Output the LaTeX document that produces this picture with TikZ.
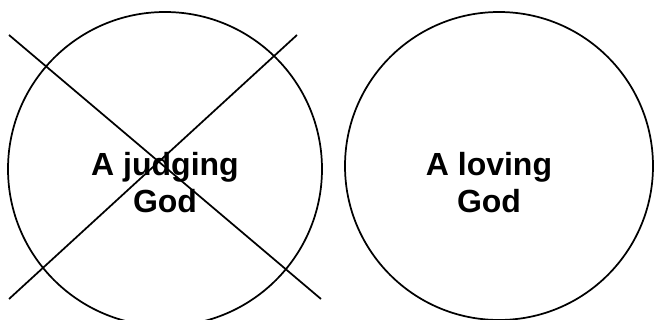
\documentclass[tikz,border=0pt]{standalone}
\usepackage{fontspec}
\setmainfont{Liberation Sans}
\begin{document}
\begin{tikzpicture}[x=0.75pt,y=-0.75pt,
  ring/.style={draw=black,line width=1.3pt,circle,inner sep=0pt},
  label/.style={align=center,font=\fontsize{24}{27.75}\selectfont\bfseries,inner sep=0pt},
  crossline/.style={draw=black,line width=1.3pt}]
\useasboundingbox (0,0) rectangle (654,320);
\begin{scope}
\clip (0,0) rectangle (654,320);
\node[ring,minimum size=314*0.75pt] (judge) at (165,169) {};
\node[ring,minimum size=308*0.75pt] (love) at (499,166) {};
\end{scope}
\coordinate (c1a) at (9,35);
\coordinate (c1b) at (321,299);
\coordinate (c2a) at (297,35);
\coordinate (c2b) at (9,299);
\draw[crossline] (c1a) -- (c1b);
\draw[crossline] (c2a) -- (c2b);
\node[label] (tj) at (165,183) {A judging\\God};
\node[label] (tl) at (489,183) {A loving\\God};
\end{tikzpicture}
\end{document}
